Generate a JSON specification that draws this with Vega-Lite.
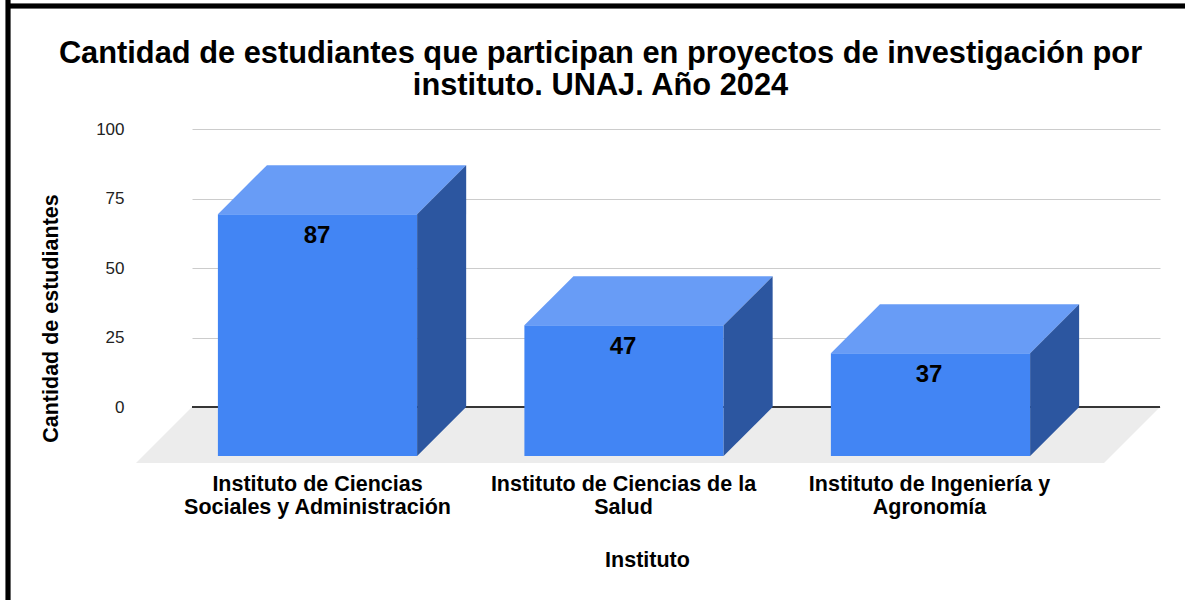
{
"$schema":"https://vega.github.io/schema/vega-lite/v6.json",
"autosize":{"type":"none"},
"padding":{"left":192,"top":129,"right":25,"bottom":135},
"width":968,"height":336,
"background":"white",
"title":{"text":["Cantidad de estudiantes que participan en proyectos de investigación por","instituto. UNAJ. Año 2024"],"font":"Liberation Sans","fontSize":30.8,"fontWeight":"bold","color":"#000000","anchor":"middle","dx":-75.5,"offset":-104,"lineHeight":31.5},
"config":{"view":{"stroke":null},"font":"Liberation Sans"},
"data":{"values":[
{"instituto":"Instituto de Ciencias Sociales y Administración","cantidad":87},
{"instituto":"Instituto de Ciencias de la Salud","cantidad":47},
{"instituto":"Instituto de Ingeniería y Agronomía","cantidad":37}
]},
"transform":[
{"window":[{"op":"row_number","as":"n"}]},
{"calculate":"datum.n-1","as":"i"}
],
"resolve":{"scale":{"x":"independent"},"axis":{"x":"independent"}},
"layer":[
{"layer":[
{"transform":[{"filter":"datum.n==1"},{"fold":["instituto","cantidad"],"as":["lado","v"]},{"calculate":"datum.lado=='cantidad'?1:0","as":"f"},{"calculate":"-20.14*datum.f","as":"fy"},{"calculate":"-0.4095-0.1827*datum.f","as":"fx"},{"calculate":"2.7488-0.1827*datum.f","as":"fx2"}],
"mark":{"type":"area","orient":"horizontal","color":"#ececec"},
"encoding":{"y":{"field":"fy","type":"quantitative","scale":{"domain":[-20.86,100],"nice":false,"zero":false},"axis":{"values":[0,25,50,75,100],"title":"Cantidad de estudiantes","titleFont":"Liberation Sans","titleFontSize":21.5,"titleFontWeight":"bold","titleColor":"#000000","titleX":-141,"titleY":189,"titleBaseline":"middle","labelFont":"Liberation Sans","labelFontSize":17,"labelColor":"#222222","labelPadding":68,"ticks":false,"domain":false,"grid":true,"gridColor":"#cccccc","gridWidth":1}},
"x":{"field":"fx","type":"quantitative","scale":{"domain":[-0.4095,2.7488],"nice":false,"zero":false},"axis":null},
"x2":{"field":"fx2"}}},
{"mark":{"type":"rule","color":"#333333","strokeWidth":1.5},"encoding":{"y":{"datum":0}}},
{"transform":[{"calculate":"datum.i-0.325","as":"x0"},{"calculate":"datum.i+0.325","as":"x1"},{"calculate":"datum.cantidad-17.63","as":"y0"},{"calculate":"-17.63","as":"y1"}],
"mark":{"type":"rect","color":"#4285f4"},
"encoding":{"x":{"field":"x0","type":"quantitative"},"x2":{"field":"x1"},"y":{"field":"y0","type":"quantitative"},"y2":{"field":"y1"}}},
{"transform":[{"fold":["instituto","cantidad"],"as":["lado","v"]},{"calculate":"datum.lado=='cantidad'?1:0","as":"f"},{"calculate":"datum.cantidad-17.63*(1-datum.f)","as":"ty"},{"calculate":"datum.i-0.325+0.16*datum.f","as":"tx"},{"calculate":"datum.i+0.325+0.16*datum.f","as":"tx2"}],
"mark":{"type":"area","orient":"horizontal","color":"#689cf6"},
"encoding":{"detail":{"field":"instituto"},"y":{"field":"ty","type":"quantitative"},"x":{"field":"tx","type":"quantitative"},"x2":{"field":"tx2"}}},
{"transform":[{"fold":["instituto","cantidad"],"as":["lado","v"]},{"calculate":"datum.lado=='cantidad'?1:0","as":"f"},{"calculate":"datum.i+0.325+0.16*datum.f","as":"sx"},{"calculate":"datum.cantidad-17.63*(1-datum.f)","as":"sy"},{"calculate":"-17.63*(1-datum.f)","as":"sy2"}],
"mark":{"type":"area","orient":"vertical","color":"#2c56a0"},
"encoding":{"detail":{"field":"instituto"},"x":{"field":"sx","type":"quantitative"},"y":{"field":"sy","type":"quantitative"},"y2":{"field":"sy2"}}},
{"mark":{"type":"rule","color":"#000000","strokeWidth":4.5},"encoding":{"x":{"datum":-1.0098},"y":{"value":-129},"y2":{"value":471}}},
{"mark":{"type":"rule","color":"#000000","strokeWidth":4.5},"encoding":{"y":{"datum":144.2},"x":{"value":-186},"x2":{"value":993}}}
]},
{"mark":{"type":"text","font":"Liberation Sans","fontSize":24,"fontWeight":"bold","color":"#000000","baseline":"middle","yOffset":71},
"encoding":{"text":{"field":"cantidad","type":"quantitative"},
"y":{"field":"cantidad","type":"quantitative"},
"x":{"field":"instituto","type":"nominal","sort":null,"scale":{"type":"point","range":[125,737],"padding":0},
"axis":{"orient":"bottom","title":"Instituto","titleFont":"Liberation Sans","titleFontSize":21.5,"titleFontWeight":"bold","titleColor":"#000000","titleX":455,"titleY":95,"titleBaseline":"middle","labelFont":"Liberation Sans","labelFontSize":21.5,"labelFontWeight":"bold","labelColor":"#000000","labelAngle":0,"labelPadding":8,"labelLimit":400,"labelLineHeight":23,"ticks":false,"domain":false,"grid":false,
"labelExpr":"datum.index==0?['Instituto de Ciencias','Sociales y Administración']:datum.index<0.75?['Instituto de Ciencias de la','Salud']:['Instituto de Ingeniería y','Agronomía']"}}}}
]
}
